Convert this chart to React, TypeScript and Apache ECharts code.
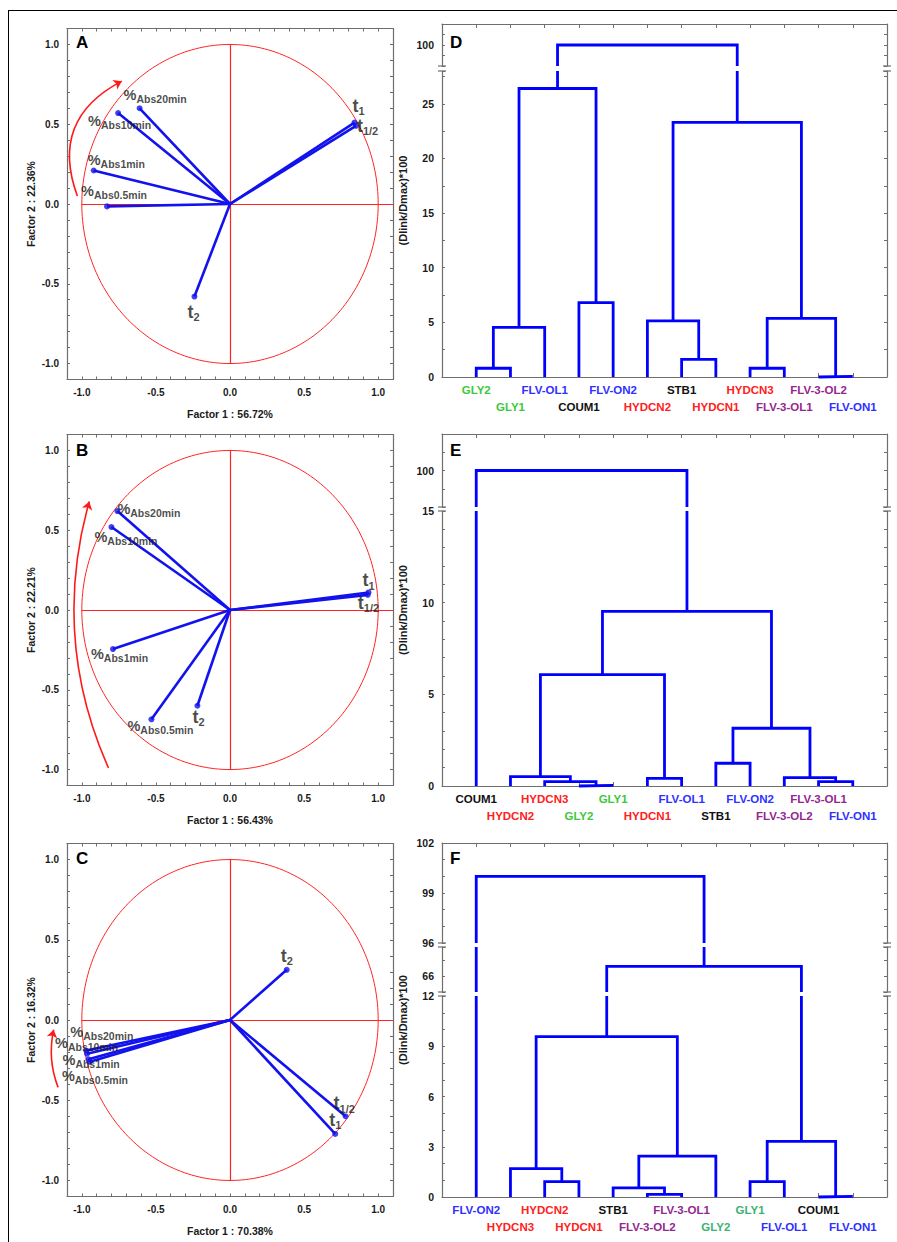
import React, { useEffect, useRef } from "react";
import * as echarts from "echarts";

const FONT = "'Liberation Sans', Arial, Helvetica, sans-serif";

/* ---------------- PCA loading plots (A, B, C) ---------------- */
const loadingVars = ["%Abs20min", "%Abs10min", "%Abs1min", "%Abs0.5min", "t1", "t1/2", "t2"];
const factor1A = [-0.61, -0.755, -0.92, -0.83, 0.84, 0.85, -0.24];
const factor2A = [0.6, 0.57, 0.21, -0.015, 0.51, 0.49, -0.58];
const factor1B = [-0.76, -0.8, -0.79, -0.53, 0.935, 0.93, -0.22];
const factor2B = [0.62, 0.52, -0.245, -0.685, 0.11, 0.095, -0.6];
const factor1C = [-0.97, -0.965, -0.955, -0.945, 0.71, 0.78, 0.383];
const factor2C = [-0.19, -0.21, -0.245, -0.26, -0.71, -0.6, 0.313];
const factor1Explained = ["56.72%", "56.43%", "70.38%"];
const factor2Explained = ["22.36%", "22.21%", "16.32%"];
const pcaTickLabels = [-1.0, -0.5, 0.0, 0.5, 1.0];
// red trend arrows (start, end) in factor coordinates
const trendArrowA = [[-1.03, 0.05], [-0.73, 0.77]];
const trendArrowB = [[-0.82, -0.99], [-0.95, 0.68]];
const trendArrowC = [[-1.16, -0.42], [-1.19, -0.06]];
// red reference cross (vertical and horizontal lines through the origin)
const crossVertical = [[0, -1], [0, 1]];
const crossHorizontal = [[-1, 0], [1.1, 0]];

/* ---------------- Dendrograms (D, E, F) ---------------- */
const leavesD = ["GLY2", "GLY1", "FLV-OL1", "COUM1", "FLV-ON2", "HYDCN2", "STB1", "HYDCN1", "HYDCN3", "FLV-3-OL1", "FLV-3-OL2", "FLV-ON1"];
// [node a, node b, linkage distance]  (nodes 0..11 leaves, 12.. merges)
const mergesD = [
  [0, 1, 0.8], [12, 2, 4.55], [3, 4, 6.8], [13, 14, 26.4], [6, 7, 1.62], [5, 16, 5.13],
  [8, 9, 0.8], [10, 11, 0.05], [18, 19, 5.37], [17, 20, 23.3], [15, 21, 100],
];
const leavesE = ["COUM1", "HYDCN2", "HYDCN3", "GLY2", "GLY1", "HYDCN1", "FLV-OL1", "STB1", "FLV-ON2", "FLV-3-OL2", "FLV-3-OL1", "FLV-ON1"];
const mergesE = [
  [3, 4, 0.03], [2, 12, 0.24], [1, 13, 0.51], [5, 6, 0.42], [14, 15, 6.07], [7, 8, 1.24],
  [10, 11, 0.24], [9, 18, 0.46], [17, 19, 3.15], [16, 20, 9.53], [0, 21, 100],
];
const leavesF = ["FLV-ON2", "HYDCN3", "HYDCN2", "HYDCN1", "STB1", "FLV-3-OL2", "FLV-3-OL1", "GLY2", "GLY1", "FLV-OL1", "COUM1", "FLV-ON1"];
const mergesF = [
  [2, 3, 0.92], [1, 12, 1.7], [5, 6, 0.16], [4, 14, 0.54], [15, 7, 2.44], [13, 16, 9.58],
  [8, 9, 0.92], [10, 11, 0.04], [18, 19, 3.32], [17, 20, 66.6], [0, 21, 100],
];
const yTickLabelsD = [0, 5, 10, 15, 20, 25, 100];
const yTickLabelsE = [0, 5, 10, 15, 100];
const yTickLabelsF = [0, 3, 6, 9, 12, 66, 96, 99, 102];

/* ---------------- layout / styles ---------------- */
const PCA_LEFT = 67;
const PCA_WIDTH = 326;
const pcaLayout = [
  { top: 28.5, height: 351, letterTop: 34 },
  { top: 434.5, height: 351, letterTop: 442 },
  { top: 843.5, height: 353, letterTop: 850 },
];
// label anchor (bottom-left) offsets from the point, px
const labelOffsetA = [[-16, -6], [-30, 15], [-6, -3], [-26, -8], [-2, -8], [1, 9], [-7, 24]];
const labelOffsetB = [[0, 5], [-17, 17], [-22, 12], [-24, 14], [-6, -3], [-10, 17], [-5, 20]];
const labelOffsetC = [[-16, -11], [-32, -3], [-26, 8], [-28, 22], [-6, -5], [-12, -4], [-6, -5]];
const arrowCurve = [0.44, 0.18, 0.15];

const DEN_LEFT = 442;
const DEN_WIDTH = 445;
type Seg = { top: number; height: number; min: number; max: number; interval: number };
const segmentsD: Seg[] = [
  { top: 24, height: 42, min: 98, max: 102, interval: 1 },
  { top: 71, height: 306, min: 0, max: 28, interval: 2.5 },
];
const segmentsE: Seg[] = [
  { top: 434, height: 73, min: 98, max: 102, interval: 1 },
  { top: 511, height: 275, min: 0, max: 15, interval: 1 },
];
const segmentsF: Seg[] = [
  { top: 843, height: 100, min: 96, max: 102, interval: 1 },
  { top: 947, height: 45, min: 65, max: 67.8, interval: 1 },
  { top: 996, height: 201, min: 0, max: 12, interval: 1 },
];

const BLUE = "#1212ee";
const DBLUE = "#0000ff";
const RED = "#ff2424";
const FRAME = "#6e6e6e";
const TXT = "#1a1a1a";

// correlation (unit) circle outline
const UNIT_CIRCLE = Array.from({ length: 241 }, (_, k) => {
  const a = (k / 240) * 2 * Math.PI;
  return [Math.cos(a), Math.sin(a)];
});

const bold = (size: number, color = TXT) => ({ fontFamily: FONT, fontSize: size, fontWeight: "bold", color });

const pcaRich = {
  p: { ...bold(14.5), lineHeight: 15, verticalAlign: "top" },
  a: { ...bold(10.5), lineHeight: 11, padding: [6, 0, 0, 0], verticalAlign: "top" },
  t: { ...bold(18), lineHeight: 18, verticalAlign: "top" },
  s: { ...bold(11), lineHeight: 11, padding: [9, 0, 0, 0], verticalAlign: "top" },
};

function loadingLabel(name: string) {
  if (name.startsWith("%")) return `{p|%}{a|${name.slice(1)}}`;
  return `{t|t}{s|${name.slice(1)}}`;
}

function leafKey(name: string, teal: boolean) {
  if (name.startsWith("GLY")) return teal ? "gt" : "g";
  if (name.startsWith("HYDCN")) return "r";
  if (name.startsWith("FLV-3")) return "p";
  if (name.startsWith("FLV")) return "b";
  return "k";
}

const leafRich = {
  g: bold(11.5, "#3cc83c"),
  gt: bold(11.5, "#3cb371"),
  b: bold(11.5, "#3030ff"),
  r: bold(11.5, "#ff2020"),
  p: bold(11.5, "#93278f"),
  k: bold(11.5, "#111111"),
};

function buildOption() {
  const grid: any[] = [];
  const xAxis: any[] = [];
  const yAxis: any[] = [];
  const series: any[] = [];
  const graphic: any[] = [];

  const axisLine = () => ({ show: true, onZero: false, lineStyle: { color: FRAME, width: 1.2 } });
  const axisTick = (len = 3) => ({ show: true, inside: true, length: len, lineStyle: { color: FRAME, width: 1 } });
  const nameStyle = { ...bold(10.5) };

  const pcaFmt = (v: number) => {
    const hit = pcaTickLabels.find((t) => Math.abs(t - v) < 1e-6);
    return hit === undefined ? "" : hit.toFixed(1);
  };

  const pcaPanels = [
    { f1: factor1A, f2: factor2A, arrow: trendArrowA, offsets: labelOffsetA, letter: "A" },
    { f1: factor1B, f2: factor2B, arrow: trendArrowB, offsets: labelOffsetB, letter: "B" },
    { f1: factor1C, f2: factor2C, arrow: trendArrowC, offsets: labelOffsetC, letter: "C" },
  ];

  pcaPanels.forEach((p, i) => {
    const L = pcaLayout[i];
    const gi = grid.length;
    grid.push({ left: PCA_LEFT, top: L.top, width: PCA_WIDTH, height: L.height, show: false, outerBoundsMode: "none" });
    const common = () => ({
      type: "value", gridIndex: gi, min: -1.1, max: 1.1, interval: 0.1,
      splitLine: { show: false }, axisLine: axisLine(), axisTick: axisTick(),
    });
    const xi = xAxis.length;
    xAxis.push({
      ...common(), position: "bottom",
      axisLabel: { ...bold(10), margin: 8, formatter: pcaFmt },
      name: `Factor 1 : ${factor1Explained[i]}`, nameLocation: "middle", nameGap: 29, nameTextStyle: nameStyle,
    });
    xAxis.push({ ...common(), position: "top", axisLabel: { show: false } });
    const yi = yAxis.length;
    yAxis.push({
      ...common(), position: "left",
      axisLabel: { ...bold(10), margin: 8, formatter: pcaFmt },
      name: `Factor 2 : ${factor2Explained[i]}`, nameLocation: "middle", nameGap: 31, nameTextStyle: nameStyle,
    });
    yAxis.push({ ...common(), position: "right", axisLabel: { show: false } });
    const ax = { xAxisIndex: xi, yAxisIndex: yi };
    series.push({
      type: "line", ...ax, data: UNIT_CIRCLE, symbol: "none",
      lineStyle: { color: RED, width: 1 }, itemStyle: { color: RED }, silent: true, z: 1,
    });
    series.push({
      type: "lines", coordinateSystem: "cartesian2d", ...ax, clip: false, silent: true, z: 2,
      data: [{ coords: crossVertical }, { coords: crossHorizontal }],
      lineStyle: { color: RED, width: 1.2, opacity: 1 },
    });
    p.f1.forEach((x, k) => {
      series.push({
        type: "line", ...ax, data: [[0, 0], [x, p.f2[k]]], symbol: "none",
        lineStyle: { color: BLUE, width: 2.6 }, itemStyle: { color: BLUE }, silent: true, z: 3,
      });
    });
    series.push({
      type: "scatter", ...ax, symbol: "circle", symbolSize: 6, itemStyle: { color: BLUE }, silent: true, z: 4,
      data: p.f1.map((x, k) => ({
        value: [x, p.f2[k]],
        label: { position: [3 + p.offsets[k][0], 3 + p.offsets[k][1]] },
      })),
      label: {
        show: true, align: "left", verticalAlign: "bottom", color: TXT, textBorderWidth: 0,
        formatter: (d: any) => loadingLabel(loadingVars[d.dataIndex]), rich: pcaRich,
      },
    });
    series.push({
      type: "lines", coordinateSystem: "cartesian2d", ...ax, clip: false, silent: true, z: 5,
      data: [{ coords: p.arrow }],
      lineStyle: { color: "#ff1a1a", width: 1.6, opacity: 1, curveness: arrowCurve[i] },
      symbol: ["none", "arrow"], symbolSize: 8,
    });
    graphic.push({
      type: "text", left: 76, top: L.letterTop,
      style: { text: p.letter, font: `bold 17px ${FONT}`, fill: "#000" },
    });
  });

  const dendroPanels = [
    { leaves: leavesD, merges: mergesD, segs: segmentsD, yLabels: yTickLabelsD, teal: false, letter: "D", letterTop: 34 },
    { leaves: leavesE, merges: mergesE, segs: segmentsE, yLabels: yTickLabelsE, teal: false, letter: "E", letterTop: 442 },
    { leaves: leavesF, merges: mergesF, segs: segmentsF, yLabels: yTickLabelsF, teal: true, letter: "F", letterTop: 850 },
  ];

  dendroPanels.forEach((d) => {
    const nx: number[] = d.leaves.map((_, i) => i);
    const nh: number[] = d.leaves.map(() => 0);
    const links = d.merges.map(([a, b, h]) => {
      const l = { xa: nx[a], xb: nx[b], ha: nh[a], hb: nh[b], h };
      nx.push((l.xa + l.xb) / 2);
      nh.push(h);
      return l;
    });
    const n = d.leaves.length;
    const leafFmt = (row: number) => (v: number) => {
      const i = Math.round(v);
      if (Math.abs(v - i) > 1e-6 || i < 0 || i >= n || i % 2 !== row) return "";
      return `{${leafKey(d.leaves[i], d.teal)}|${d.leaves[i]}}`;
    };
    const yFmt = (v: number) => (d.yLabels.some((t) => Math.abs(t - v) < 1e-6) ? String(Math.round(v)) : "");

    d.segs.forEach((s, si) => {
      const last = si === d.segs.length - 1;
      const gi = grid.length;
      grid.push({ left: DEN_LEFT, top: s.top, width: DEN_WIDTH, height: s.height, show: false, outerBoundsMode: "none" });
      const xCommon = () => ({ type: "value", gridIndex: gi, min: -1, max: n, interval: 1, splitLine: { show: false } });
      const xi = xAxis.length;
      if (last) {
        xAxis.push({
          ...xCommon(), position: "bottom", axisLine: axisLine(), axisTick: axisTick(4),
          axisLabel: { margin: 7, formatter: leafFmt(0), rich: leafRich },
        });
        xAxis.push({
          ...xCommon(), position: "bottom", offset: 16.5, axisLine: { show: false }, axisTick: { show: false },
          axisLabel: { margin: 7, formatter: leafFmt(1), rich: leafRich },
        });
      } else {
        xAxis.push({ ...xCommon(), show: false });
      }
      if (si === 0) {
        xAxis.push({ ...xCommon(), position: "top", axisLine: axisLine(), axisTick: axisTick(4), axisLabel: { show: false } });
      }
      const yCommon = () => ({
        type: "value", gridIndex: gi, min: s.min, max: s.max, interval: s.interval,
        splitLine: { show: false }, axisLine: axisLine(), axisTick: axisTick(),
      });
      const yi = yAxis.length;
      yAxis.push({ ...yCommon(), position: "left", axisLabel: { ...bold(10.5), margin: 8, formatter: yFmt } });
      yAxis.push({ ...yCommon(), position: "right", axisLabel: { show: false } });

      const lo = s.min;
      const hi = s.max;
      links.forEach((l) => {
        const pieces: number[][][] = [];
        if (l.h >= lo && l.h <= hi) {
          pieces.push([[l.xa, Math.max(l.ha, lo)], [l.xa, l.h], [l.xb, l.h], [l.xb, Math.max(l.hb, lo)]]);
        } else if (l.h > hi) {
          if (l.ha < hi) pieces.push([[l.xa, Math.max(l.ha, lo)], [l.xa, hi]]);
          if (l.hb < hi) pieces.push([[l.xb, Math.max(l.hb, lo)], [l.xb, hi]]);
        }
        pieces.forEach((pc) => {
          series.push({
            type: "line", xAxisIndex: xi, yAxisIndex: yi, data: pc, symbol: "none", clip: false,
            lineStyle: { color: DBLUE, width: 2.8, join: "miter" }, itemStyle: { color: DBLUE }, silent: true, z: 3,
          });
        });
      });

      if (!last) {
        const yb = s.top + s.height;
        const yn = d.segs[si + 1].top;
        [DEN_LEFT, DEN_LEFT + DEN_WIDTH].forEach((x) => {
          [yb, yn].forEach((y) => {
            graphic.push({
              type: "line", silent: true,
              shape: { x1: x - 4, y1: y, x2: x + 4, y2: y },
              style: { stroke: FRAME, lineWidth: 1.2 },
            });
          });
        });
      }
    });

    const first = d.segs[0];
    const lastSeg = d.segs[d.segs.length - 1];
    graphic.push({
      type: "text", x: 403, y: (first.top + lastSeg.top + lastSeg.height) / 2, rotation: Math.PI / 2,
      style: { text: "(Dlink/Dmax)*100", font: `bold 11px ${FONT}`, fill: TXT, align: "center", verticalAlign: "middle" },
    });
    graphic.push({
      type: "text", left: 450, top: d.letterTop,
      style: { text: d.letter, font: `bold 17px ${FONT}`, fill: "#000" },
    });
  });

  // outer figure frame (left and top edges)
  graphic.push({ type: "line", silent: true, shape: { x1: 8.5, y1: 10, x2: 8.5, y2: 1242 }, style: { stroke: "#000", lineWidth: 1 } });
  graphic.push({ type: "line", silent: true, shape: { x1: 8, y1: 10.5, x2: 897, y2: 10.5 }, style: { stroke: "#000", lineWidth: 1 } });

  return {
    animation: false,
    backgroundColor: "#ffffff",
    textStyle: { fontFamily: FONT },
    grid,
    xAxis,
    yAxis,
    series,
    graphic,
  };
}

export default function App() {
  const ref = useRef<HTMLDivElement>(null);
  useEffect(() => {
    if (!ref.current) return;
    const chart = echarts.init(ref.current, undefined, { renderer: "svg" });
    chart.setOption(buildOption() as any);
    return () => chart.dispose();
  }, []);
  return (
    <div
      ref={ref}
      style={{ position: "absolute", left: 0, top: 0, width: 897, height: 1242, background: "#fff" }}
    />
  );
}
